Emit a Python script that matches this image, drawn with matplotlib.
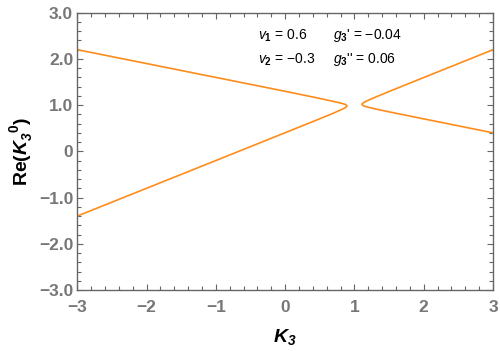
import matplotlib
matplotlib.use("Agg")
import matplotlib.pyplot as plt
from matplotlib.ticker import MultipleLocator, FixedLocator

# Left branch (upper arm -> tip -> lower arm)
left_K = [-3, -1, 0, 0.5, 0.7, 0.8, 0.85, 0.87, 0.88, 0.89, 0.891,
          0.89, 0.88, 0.87, 0.85, 0.8, 0.7, 0.5, 0, -1, -3]
left_Re = [2.20, 1.60, 1.30, 1.145, 1.08, 1.045, 1.024, 1.013, 1.005, 0.991, 0.984,
           0.976, 0.959, 0.949, 0.931, 0.895, 0.829, 0.705, 0.403, -0.199, -1.40]
# Right branch (upper arm -> tip -> lower arm)
right_K = [3, 2, 1.5, 1.3, 1.2, 1.15, 1.13, 1.12, 1.11, 1.109,
           1.11, 1.12, 1.13, 1.15, 1.2, 1.3, 1.5, 2, 3]
right_Re = [2.199, 1.597, 1.295, 1.171, 1.106, 1.069, 1.052, 1.041, 1.024, 1.016,
            1.009, 0.995, 0.988, 0.976, 0.955, 0.919, 0.855, 0.703, 0.401]

x_ticks = [-3, -2, -1, 0, 1, 2, 3]
x_labels = ["\u22123", "\u22122", "\u22121", "0", "1", "2", "3"]
y_ticks = [-3, -2, -1, 0, 1, 2, 3]
y_labels = ["\u22123.0", "\u22122.0", "\u22121.0", "0", "1.0", "2.0", "3.0"]

plt.rcParams["mathtext.fontset"] = "custom"
plt.rcParams["mathtext.rm"] = "Liberation Sans:bold"
plt.rcParams["mathtext.it"] = "Liberation Sans:italic"
plt.rcParams["mathtext.bf"] = "Liberation Sans:bold:italic"

fig = plt.figure(figsize=(5.0, 3.51), dpi=100)
ax = fig.add_axes([0.1546, 0.1738, 0.986 - 0.1546, 0.9638 - 0.1738])

col = "#ff8c1a"
ax.plot(left_K, left_Re, color=col, lw=1.2, solid_joinstyle="round")
ax.plot(right_K, right_Re, color=col, lw=1.2, solid_joinstyle="round")

ax.set_xlim(-3, 3)
ax.set_ylim(-3, 3)

gray = "#666666"
for s in ax.spines.values():
    s.set_color(gray)
    s.set_linewidth(1.0)

ax.xaxis.set_major_locator(FixedLocator(x_ticks))
ax.yaxis.set_major_locator(FixedLocator(y_ticks))
ax.xaxis.set_minor_locator(MultipleLocator(0.2))
ax.yaxis.set_minor_locator(MultipleLocator(0.2))
ax.set_xticklabels(x_labels)
ax.set_yticklabels(y_labels)
ax.tick_params(which="both", direction="in", top=True, right=True, color=gray, width=0.8)
ax.tick_params(which="major", length=4.5)
ax.tick_params(which="minor", length=2.8)
ax.tick_params(axis="x", which="major", pad=7)
ax.tick_params(axis="y", which="major", pad=3)
for lab in ax.get_xticklabels() + ax.get_yticklabels():
    lab.set_fontweight("bold")
    lab.set_family("Liberation Sans")
    lab.set_fontsize(12.5)
    lab.set_color("#777777")

ax.set_xlabel("$\\mathbf{K}_{\\mathbf{3}}$", fontsize=14, labelpad=9)
ax.set_ylabel("Re($\\mathbf{K}_{\\mathbf{3}}^{\\ \\ \\mathrm{0}}$)", fontsize=14,
              fontweight="bold", family="Liberation Sans", labelpad=3)

tk = dict(fontsize=10, family="Liberation Sans", color="black", va="center")
ax.text(-0.39, 2.50, "$v_1$ = 0.6", **tk)
ax.text(0.69, 2.50, "$g_3$' = \u22120.04", **tk)
ax.text(-0.39, 1.98, "$v_2$ = \u22120.3", **tk)
ax.text(0.69, 1.98, "$g_3$'' = 0.06", **tk)

fig.savefig("out.png", dpi=100)
